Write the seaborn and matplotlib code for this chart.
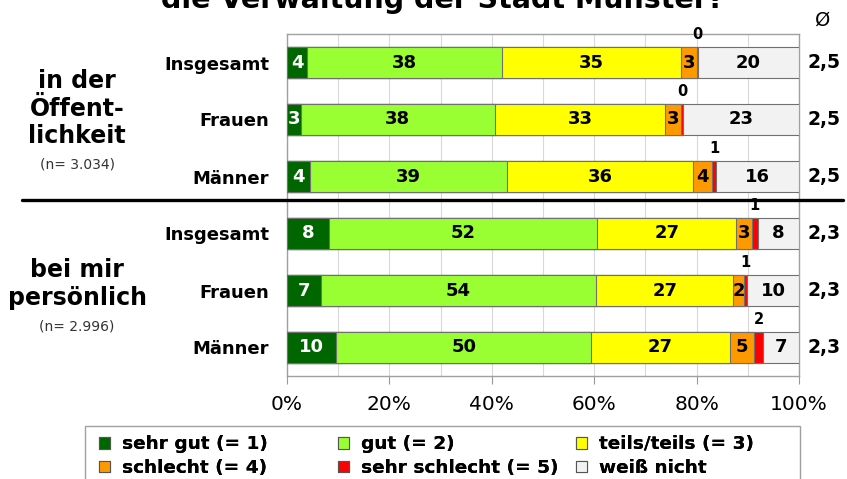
import numpy as np
import pandas as pd
import matplotlib
matplotlib.use('Agg')
import matplotlib.pyplot as plt
from matplotlib.lines import Line2D
from matplotlib.patches import Patch, Rectangle
import seaborn as sns

# ---- Daten (Anteile in %) ----
row_labels = ['Insgesamt', 'Frauen', 'Männer', 'Insgesamt', 'Frauen', 'Männer']
categories = ['sehr gut (= 1)', 'gut (= 2)', 'teils/teils (= 3)',
              'schlecht (= 4)', 'sehr schlecht (= 5)', 'weiß nicht']
sehr_gut = [3.9, 2.7, 4.4, 8.2, 6.6, 9.6]
gut = [38.1, 37.9, 38.6, 52.4, 53.8, 49.8]
teils = [35.0, 33.2, 36.2, 27.1, 26.8, 27.1]
schlecht = [3.1, 3.2, 3.9, 3.1, 2.1, 4.7]
sehr_schlecht = [0.1, 0.4, 0.6, 1.1, 0.6, 1.8]
weiss_nicht = [19.8, 22.6, 16.3, 8.1, 10.1, 7.0]
mittelwerte = ['2,5', '2,5', '2,5', '2,3', '2,3', '2,3']
gruppen = [['in der', 'Öffent-', 'lichkeit'], ['bei mir', 'persönlich']]
gruppen_n = ['(n= 3.034)', '(n= 2.996)']
title = 'die Verwaltung der Stadt Münster?'

colors = ['#006600', '#99ff33', '#ffff00', '#ff9900', '#ff0000', '#f2f2f2']

W, H = 847, 479
def fx(px):
    return px / W
def fy(py):
    return 1 - py / H

sns.set_style('white')
plt.rcParams['font.family'] = ['DejaVu Sans']
plt.rcParams['text.color'] = 'black'
plt.rcParams['xtick.labelcolor'] = 'black'
plt.rcParams['ytick.labelcolor'] = 'black'

fig = plt.figure(figsize=(8.47, 4.79), dpi=100)
ax = fig.add_axes([fx(287), fy(376), 512 / W, 342 / H])

series = [sehr_gut, gut, teils, schlecht, sehr_schlecht, weiss_nicht]
df = pd.DataFrame({c: s for c, s in zip(categories, series)})
df['row'] = [str(i) for i in range(len(row_labels))]
cum = df[categories].cumsum(axis=1)

# gestapelte Balken: kumulierte Summen, breiteste zuerst
for i in range(len(categories) - 1, -1, -1):
    sns.barplot(x=cum[categories[i]], y=df['row'], orient='h', color=colors[i],
                width=0.56, edgecolor='#707070', linewidth=0.8, ax=ax,
                saturation=1, zorder=3)

# Beschriftungen in den Balken
for r in range(len(row_labels)):
    for i, c in enumerate(categories):
        val = df.loc[r, c]
        center = cum.loc[r, c] - val / 2
        lab = f'{int(round(val))}'
        if i == 4:
            ax.text(center, r - 0.36, lab, ha='center', va='bottom',
                    fontsize=10.5, fontweight='bold', color='black')
        else:
            ax.text(center, r, lab, ha='center', va='center', fontsize=13,
                    fontweight='bold', color='white' if i == 0 else 'black',
                    zorder=4)
    ax.text(1.049, r, mittelwerte[r], transform=ax.get_yaxis_transform(),
            ha='center', va='center', fontsize=13.5, fontweight='bold')

ax.set_xlim(0, 100)
ax.set_ylim(5.5, -0.5)
ax.set_xticks(np.arange(0, 101, 20))
ax.set_xticks(np.arange(0, 101, 10), minor=True)
ax.set_xticklabels([f'{v}%' for v in range(0, 101, 20)], fontsize=14.5)
ax.set_yticks(range(len(row_labels)))
ax.set_yticklabels(row_labels, fontsize=13, fontweight='bold')
ax.tick_params(axis='y', length=0, pad=13)
ax.tick_params(axis='x', which='major', direction='out', length=6, color='#999999',
               pad=8, bottom=True)
ax.tick_params(axis='x', which='minor', length=0)
ax.grid(axis='x', which='both', color='#d9d9d9', lw=0.8, zorder=0)
ax.set_axisbelow(True)
ax.set_xlabel('')
ax.set_ylabel('')
for sp in ax.spines.values():
    sp.set_color('#a0a0a0')
    sp.set_linewidth(1)

# Gruppenbeschriftungen links
for lines, n_txt, y0 in zip(gruppen, gruppen_n, [88, 277]):
    y = y0
    for ln in lines:
        fig.text(fx(77), fy(y), ln, ha='center', va='baseline', fontsize=17,
                 fontweight='bold')
        y += 27.5
    fig.text(fx(77), fy(y - 2), n_txt, ha='center', va='baseline', fontsize=10,
             color='#333333')

# Trennlinie
fig.add_artist(Line2D([fx(22), fx(843)], [fy(200), fy(200)], color='black',
                      lw=2.4, transform=fig.transFigure))

fig.text(fx(823), fy(20), 'Ø', ha='center', va='center', fontsize=14)
fig.text(fx(443), fy(8), title, ha='center', va='baseline', fontsize=20.5,
         fontweight='bold')

# Legende (drei Spalten wie im Original)
fig.add_artist(Rectangle((fx(85), fy(481)), fx(800) - fx(85), fy(426) - fy(481),
                         transform=fig.transFigure, fill=False,
                         edgecolor='#a0a0a0', lw=1))
col_x = [92, 331, 569]
for k in range(3):
    handles = [Patch(facecolor=colors[k], edgecolor='#555555', lw=0.8),
               Patch(facecolor=colors[k + 3], edgecolor='#555555', lw=0.8)]
    leg = fig.legend(handles, [categories[k], categories[k + 3]], loc='upper left',
                     bbox_to_anchor=(fx(col_x[k]), fy(428)), frameon=False,
                     ncol=1, handlelength=0.6, handleheight=0.6,
                     handletextpad=0.6, labelspacing=0.3, borderaxespad=0,
                     prop={'weight': 'bold', 'size': 13.3})
    fig.add_artist(leg)

fig.savefig('out.png', dpi=100)
